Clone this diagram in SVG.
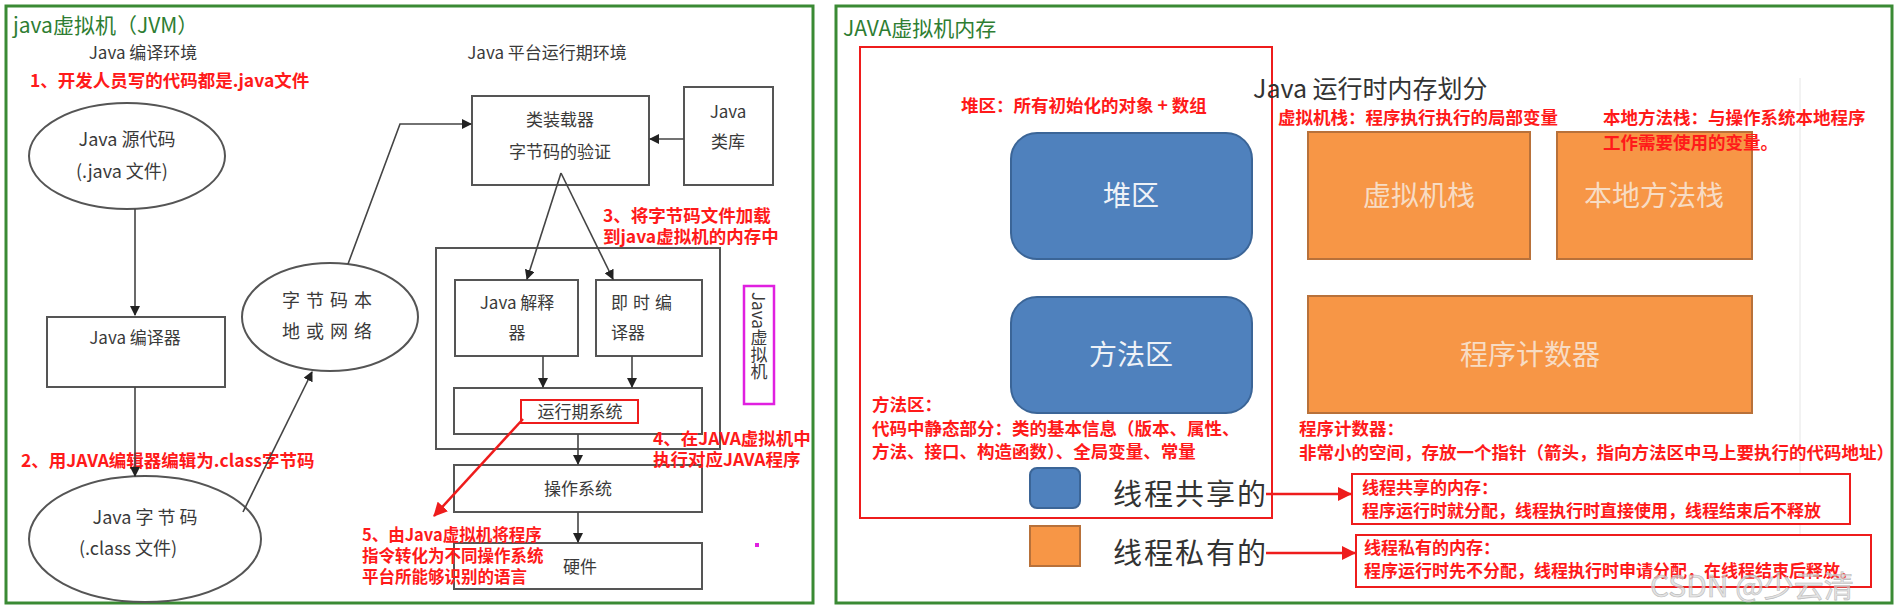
<svg xmlns="http://www.w3.org/2000/svg" width="1898" height="610" viewBox="0 0 1898 610">
<style>
text{font-family:"Noto Sans CJK SC","Noto Sans",sans-serif}
.g{fill:#3a3a3a;font-size:17px}
.gc{fill:#3a3a3a;font-size:17px;text-anchor:middle}
.r{fill:#ff1a1a;font-size:17.5px;font-weight:bold}
.box{fill:#fff;stroke:#555;stroke-width:2}
.ln{stroke:#444;stroke-width:1.6;fill:none}
.rl{stroke:#ee1c1c;stroke-width:2.5;fill:none}
.blue{fill:#4f81bd;stroke:#3b6597;stroke-width:2}
.org{fill:#f79646;stroke:#b8713a;stroke-width:2}
.wt{fill:#eef2f7;font-size:28px;text-anchor:middle}
.ot{fill:#f7dcc4;font-size:28px;text-anchor:middle}
.frame{fill:#fff;stroke:#3a8a34;stroke-width:3}
</style>
<defs>
<marker id="ab" markerWidth="10" markerHeight="10" refX="9" refY="5" orient="auto" markerUnits="userSpaceOnUse"><path d="M0,0 L10,5 L0,10 z" fill="#222"/></marker>
<marker id="ar" markerWidth="14" markerHeight="14" refX="13" refY="7" orient="auto" markerUnits="userSpaceOnUse"><path d="M0,0 L14,7 L0,14 z" fill="#ee1c1c"/></marker>
</defs>
<rect width="1898" height="610" fill="#fff"/>
<rect class="frame" x="6" y="6" width="807" height="597"/>
<rect class="frame" x="836" y="6" width="1056" height="597"/>
<text x="13" y="33" style="font-size:21px;fill:#2e7d32">java虚拟机（JVM）</text>
<text x="843" y="36" style="font-size:21px;fill:#2e7d32">JAVA虚拟机内存</text>

<text class="gc" x="143" y="59">Java 编译环境</text>
<text class="r" x="30" y="87">1、开发人员写的代码都是.java文件</text>
<g id="src"><ellipse cx="127" cy="156" rx="98" ry="53" fill="#fff" stroke="#555" stroke-width="2"/>
<text class="gc" x="127" y="146" style="font-size:18px">Java  源代码</text>
<text class="gc" x="122" y="178" style="font-size:18px">(.java 文件)</text></g>
<g id="compiler"><rect class="box" x="47" y="317" width="178" height="70"/>
<text class="gc" x="135" y="344">Java 编译器</text></g>
<g id="bytecode"><ellipse cx="145" cy="539" rx="116" ry="63" fill="#fff" stroke="#555" stroke-width="2"/>
<text class="gc" x="145" y="524" style="font-size:18px">Java   字  节  码</text>
<text class="gc" x="128" y="555" style="font-size:18px">(.class 文件)</text></g>
<text class="r" x="21" y="467">2、用JAVA编辑器编辑为.class字节码</text>
<g id="net"><ellipse cx="330" cy="317" rx="88" ry="54" fill="#fff" stroke="#555" stroke-width="2"/>
<text class="gc" x="330" y="307" style="font-size:18px;letter-spacing:6px">字节码本</text>
<text class="gc" x="330" y="338" style="font-size:18px;letter-spacing:6px">地或网络</text></g>

<text class="gc" x="547" y="59">Java 平台运行期环境</text>
<g id="loader"><rect class="box" x="472" y="96" width="177" height="89"/>
<text class="gc" x="560" y="126">类装载器</text>
<text class="gc" x="560" y="158">字节码的验证</text></g>
<g id="lib"><rect class="box" x="684" y="87" width="89" height="98"/>
<text class="gc" x="728" y="118">Java</text>
<text class="gc" x="728" y="148">类库</text></g>
<g id="jvm"><rect class="box" x="436" y="248" width="284" height="201"/></g>
<g id="interp"><rect class="box" x="455" y="280" width="123" height="76"/>
<text class="gc" x="517" y="309">Java 解释</text>
<text class="gc" x="517" y="339">器</text></g>
<g id="jit"><rect class="box" x="596" y="280" width="106" height="76"/>
<text class="g" x="611" y="309" style="letter-spacing:5px">即时编</text>
<text class="g" x="611" y="339">译器</text></g>
<g id="runtime"><rect class="box" x="454" y="388" width="248" height="46"/>
<rect x="521" y="400" width="117" height="23" fill="none" stroke="#ee1c1c" stroke-width="2"/>
<text class="gc" x="580" y="418">运行期系统</text></g>
<g id="os"><rect class="box" x="454" y="465" width="248" height="47"/>
<text class="gc" x="578" y="495">操作系统</text></g>
<g id="hw"><rect class="box" x="454" y="543" width="248" height="46"/>
<text class="gc" x="580" y="573">硬件</text></g>
<text class="r" x="603" y="222">3、将字节码文件加载</text>
<text class="r" x="603" y="243">到java虚拟机的内存中</text>
<text class="r" x="653" y="445">4、在JAVA虚拟机中</text>
<text class="r" x="653" y="466">执行对应JAVA程序</text>
<text class="r" x="362" y="541" style="font-size:16.5px">5、由Java虚拟机将程序</text>
<text class="r" x="362" y="562" style="font-size:16.5px">指令转化为不同操作系统</text>
<text class="r" x="362" y="583" style="font-size:16.5px">平台所能够识别的语言</text>
<g id="jvmlabel"><rect x="744" y="286" width="30" height="118" fill="none" stroke="#e020e0" stroke-width="2.5"/>
<text x="759" y="292" style="writing-mode:vertical-rl;font-size:17px;fill:#3a3a3a">Java虚拟机</text></g>
<rect x="755" y="543" width="4" height="4" fill="#e020e0"/>

<rect x="860" y="47" width="412" height="471" fill="none" stroke="#ee1c1c" stroke-width="2"/>
<line x1="1800" y1="78" x2="1800" y2="600" stroke="#e6e6e6" stroke-width="1"/>
<text x="1253" y="98" style="font-size:25px;fill:#333">Java 运行时内存划分</text>
<text class="r" x="961" y="112">堆区：所有初始化的对象 + 数组</text>
<g id="heap"><rect class="blue" x="1011" y="133" width="241" height="126" rx="26"/>
<text class="wt" x="1131" y="206">堆区</text></g>
<g id="method"><rect class="blue" x="1011" y="297" width="241" height="116" rx="26"/>
<text class="wt" x="1131" y="365">方法区</text></g>
<text class="r" x="872" y="411">方法区：</text>
<text class="r" x="872" y="435">代码中静态部分：类的基本信息（版本、属性、</text>
<text class="r" x="872" y="458">方法、接口、构造函数）、全局变量、常量</text>
<text class="r" x="1278" y="124">虚拟机栈：程序执行执行的局部变量</text>
<g id="vmstack"><rect class="org" x="1308" y="132" width="222" height="127"/>
<text class="ot" x="1419" y="206">虚拟机栈</text></g>
<g id="native"><rect class="org" x="1557" y="132" width="195" height="127"/>
<text class="ot" x="1654" y="206">本地方法栈</text></g>
<text class="r" x="1603" y="124">本地方法栈：与操作系统本地程序</text>
<text class="r" x="1603" y="149">工作需要使用的变量。</text>
<g id="pc"><rect class="org" x="1308" y="296" width="444" height="117"/>
<text class="ot" x="1530" y="365">程序计数器</text></g>
<text class="r" x="1299" y="435">程序计数器：</text>
<text class="r" x="1299" y="459">非常小的空间，存放一个指针（箭头，指向方法区中马上要执行的代码地址）</text>
<g id="legend-shared"><rect class="blue" x="1030" y="468" width="50" height="40" rx="7"/>
<text x="1113" y="505" style="font-size:29px;fill:#333;letter-spacing:2px">线程共享的</text></g>
<g id="legend-private"><rect class="org" x="1030" y="526" width="50" height="40"/>
<text x="1113" y="564" style="font-size:29px;fill:#333;letter-spacing:2px">线程私有的</text></g>
<g id="shared-note"><rect x="1352" y="474" width="498" height="50" fill="#fff" stroke="#ee1c1c" stroke-width="2"/>
<text class="r" x="1362" y="494" style="font-size:17px">线程共享的内存：</text>
<text class="r" x="1362" y="517" style="font-size:17px">程序运行时就分配，线程执行时直接使用，线程结束后不释放</text></g>
<g id="private-note"><rect x="1356" y="535" width="515" height="52" fill="#fff" stroke="#ee1c1c" stroke-width="2"/>
<text class="r" x="1364" y="554" style="font-size:17px">线程私有的内存：</text>
<text class="r" x="1364" y="577" style="font-size:17px">程序运行时先不分配，线程执行时申请分配，在线程结束后释放。</text></g>
<text x="1650" y="597" style="font-size:30px;fill:#d8d8d8;fill-opacity:0.7;stroke:#bbb;stroke-width:0.6">CSDN @少云清</text>

<g id="connectors">
<line class="ln" x1="135" y1="209" x2="135" y2="315" marker-end="url(#ab)"/>
<line class="ln" x1="135" y1="387" x2="135" y2="476" marker-end="url(#ab)"/>
<line class="ln" x1="243" y1="512" x2="312" y2="372" marker-end="url(#ab)"/>
<polyline class="ln" points="348,264 400,124 471,124" marker-end="url(#ab)"/>
<line class="ln" x1="684" y1="139" x2="650" y2="139" marker-end="url(#ab)"/>
<line class="ln" x1="561" y1="173" x2="527" y2="279" marker-end="url(#ab)"/>
<line class="ln" x1="561" y1="173" x2="613" y2="279" marker-end="url(#ab)"/>
<line class="ln" x1="543" y1="356" x2="543" y2="387" marker-end="url(#ab)"/>
<line class="ln" x1="632" y1="356" x2="632" y2="387" marker-end="url(#ab)"/>
<line class="ln" x1="578" y1="434" x2="578" y2="464" marker-end="url(#ab)"/>
<line class="ln" x1="578" y1="512" x2="578" y2="542" marker-end="url(#ab)"/>
<line class="rl" x1="523" y1="419" x2="434" y2="516" marker-end="url(#ar)"/>
<line class="rl" x1="1266" y1="494" x2="1351" y2="494" marker-end="url(#ar)"/>
<line class="rl" x1="1266" y1="553" x2="1355" y2="553" marker-end="url(#ar)"/>
</g>
</svg>
